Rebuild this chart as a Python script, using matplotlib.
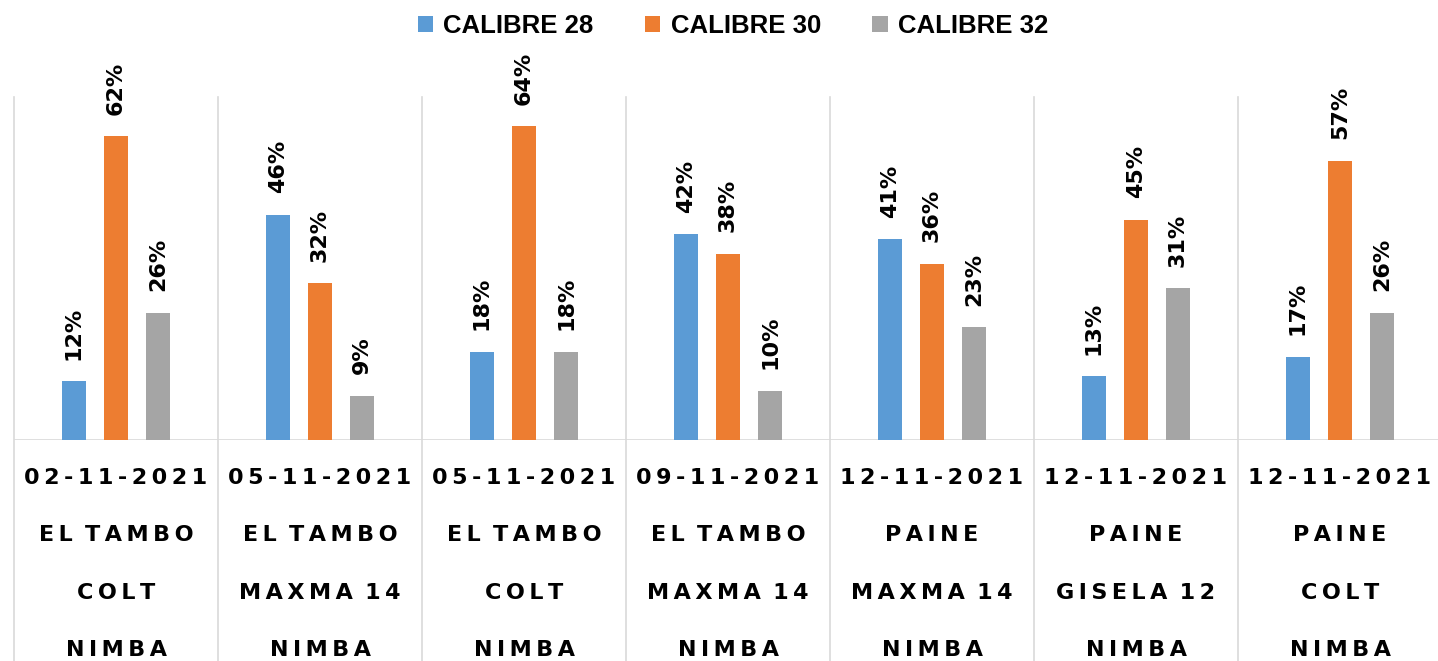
import numpy as np
import matplotlib.pyplot as plt
import matplotlib.transforms as mtransforms

fechas = ['02-11-2021', '05-11-2021', '05-11-2021', '09-11-2021',
          '12-11-2021', '12-11-2021', '12-11-2021']
predios = ['EL TAMBO', 'EL TAMBO', 'EL TAMBO', 'EL TAMBO', 'PAINE', 'PAINE', 'PAINE']
portainjertos = ['COLT', 'MAXMA 14', 'COLT', 'MAXMA 14', 'MAXMA 14', 'GISELA 12', 'COLT']
variedades = ['NIMBA'] * 7

series = ['CALIBRE 28', 'CALIBRE 30', 'CALIBRE 32']
cal28 = [12, 46, 18, 42, 41, 13, 17]
cal30 = [62, 32, 64, 38, 36, 45, 57]
cal32 = [26, 9, 18, 10, 23, 31, 26]
colores = ['#5B9BD5', '#ED7D31', '#A5A5A5']

W, H = 1438, 661
fig = plt.figure(figsize=(W / 100, H / 100), dpi=100)
ax = fig.add_axes([14 / W, (H - 440) / H, 1428 / W, 343 / H])

x = np.arange(len(fechas))
off = 0.206
ancho = 0.113
for i, (vals, nombre, c) in enumerate(zip([cal28, cal30, cal32], series, colores)):
    xs = x + (i - 1) * off
    ax.bar(xs, vals, ancho, color=c, label=nombre, zorder=3)
    for xi, v in zip(xs, vals):
        ax.text(xi, v + 4.4, f'{v}%', rotation=90, ha='center', va='bottom',
                fontsize=16, fontweight='bold', family='DejaVu Sans')

ax.set_xlim(-0.5, len(fechas) - 0.5)
ax.set_ylim(0, 70)
for s in ax.spines.values():
    s.set_visible(False)
ax.set_xticks([])
ax.set_yticks([])
ax.axhline(0, color='#D9D9D9', lw=1.2, zorder=2)

# separadores de grupos, bajan hasta el borde inferior
trans = mtransforms.blended_transform_factory(ax.transData, fig.transFigure)
for k in range(len(fechas) + 1):
    ax.plot([k - 0.5, k - 0.5], [0, 1 - 97 / H], color='#D9D9D9', lw=1.2,
            transform=trans, clip_on=False, zorder=1)


def espaciar(t):
    # letras separadas, palabras con un espacio algo mayor
    return '\u2009 '.join('\u2009'.join(p) for p in t.split(' '))


filas = [fechas, predios, portainjertos, variedades]
ys = [478, 535, 593, 650]
for fila, yp in zip(filas, ys):
    for xi, t in zip(x, fila):
        ax.text(xi, 1 - yp / H, espaciar(t), transform=trans, ha='center', va='center',
                fontsize=16, fontweight='bold', family='DejaVu Sans', clip_on=False)

fig.legend(loc='center', bbox_to_anchor=(733 / W, 1 - 26 / H), ncol=3, frameon=False,
           prop={'weight': 'bold', 'size': 18.5, 'family': 'Liberation Sans'},
           handlelength=0.6, handleheight=0.6, handletextpad=0.4, columnspacing=2.0)

fig.savefig('out.png', dpi=100)
